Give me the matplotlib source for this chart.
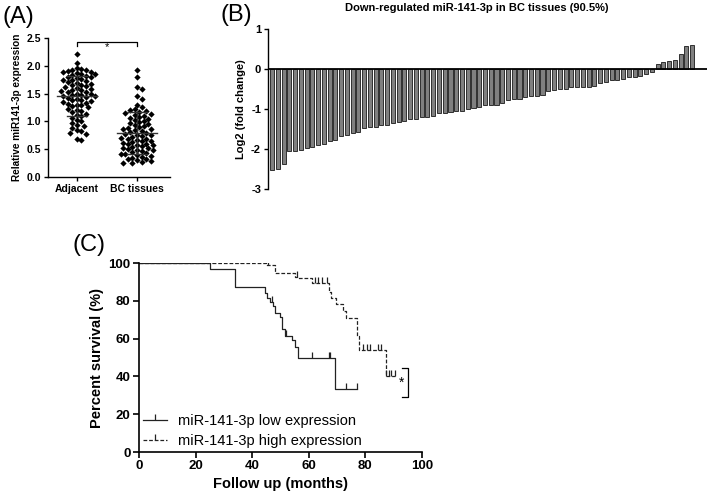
import numpy as np
import matplotlib
matplotlib.use("Agg")
import matplotlib.pyplot as plt
from matplotlib.lines import Line2D

plt.rcParams['font.family'] = ['Liberation Sans', 'DejaVu Sans']

# ---------------- Panel A data ----------------
groups_a = ["Adjacent", "BC tissues"]
adjacent_vals = [2.22, 2.05, 1.96, 1.94, 1.93, 1.92, 1.90, 1.89, 1.88, 1.87, 1.86, 1.85,
                 1.84, 1.82, 1.80, 1.79, 1.78, 1.76, 1.75, 1.74, 1.72, 1.70, 1.69, 1.68,
                 1.66, 1.65, 1.63, 1.62, 1.60, 1.58, 1.57, 1.56, 1.55, 1.53, 1.52, 1.50,
                 1.49, 1.48, 1.47, 1.46, 1.45, 1.43, 1.42, 1.40, 1.39, 1.38, 1.36, 1.35,
                 1.33, 1.32, 1.30, 1.29, 1.27, 1.25, 1.23, 1.21, 1.19, 1.17, 1.14, 1.12,
                 1.09, 1.06, 1.03, 1.00, 0.97, 0.94, 0.92, 0.88, 0.85, 0.83, 0.80, 0.78,
                 0.68, 0.67]
bc_vals = [1.93, 1.79, 1.62, 1.58, 1.45, 1.40, 1.30, 1.25, 1.22, 1.20, 1.18, 1.17,
           1.15, 1.14, 1.12, 1.10, 1.08, 1.06, 1.05, 1.03, 1.01, 0.99, 0.97, 0.95,
           0.93, 0.92, 0.90, 0.89, 0.87, 0.86, 0.84, 0.82, 0.81, 0.79, 0.78, 0.76,
           0.75, 0.73, 0.72, 0.71, 0.69, 0.68, 0.67, 0.65, 0.64, 0.63, 0.62, 0.60,
           0.59, 0.58, 0.57, 0.55, 0.54, 0.53, 0.52, 0.50, 0.49, 0.48, 0.46, 0.45,
           0.44, 0.42, 0.41, 0.40, 0.38, 0.36, 0.35, 0.33, 0.32, 0.30, 0.28, 0.27,
           0.26, 0.25]
yticks_a = [0.0, 0.5, 1.0, 1.5, 2.0, 2.5]

# ---------------- Panel B data ----------------
fold_down = [-2.52, -2.50, -2.37, -2.06, -2.04, -2.02, -1.98, -1.94, -1.91, -1.88, -1.79,
             -1.78, -1.67, -1.64, -1.59, -1.57, -1.48, -1.46, -1.44, -1.40, -1.39, -1.36,
             -1.32, -1.29, -1.26, -1.24, -1.21, -1.19, -1.18, -1.11, -1.09, -1.07, -1.06,
             -1.05, -1.00, -0.98, -0.96, -0.91, -0.91, -0.89, -0.85, -0.78, -0.76, -0.74,
             -0.71, -0.68, -0.67, -0.64, -0.55, -0.53, -0.50, -0.49, -0.46, -0.46, -0.45,
             -0.45, -0.43, -0.35, -0.32, -0.28, -0.28, -0.26, -0.21, -0.20, -0.17, -0.13,
             -0.07]
fold_up = [0.12, 0.17, 0.21, 0.22, 0.38, 0.575, 0.59]
yticks_b = [-3, -2, -1, 0, 1]

# ---------------- Panel C data ----------------
low_event_t = [25, 34, 44.5, 45.3, 46.3, 47.2, 48, 49.8, 50.7, 51.5, 53.9, 55.1, 56.3, 69.3]
low_surv = [96.8, 87.2, 84.0, 81.3, 79.5, 77.2, 73.4, 71.3, 64.9, 61.4, 59.3, 55.4, 49.5, 33.2]
low_end = 77
low_censor = [46.9, 52.1, 61.3, 67.2, 67.6, 73.1, 77]

high_event_t = [44.9, 48, 55, 56, 61, 67, 68, 69.6, 72, 73, 77.1, 77.7, 87.2]
high_surv = [98.9, 94.8, 92.7, 91.9, 89.6, 84.8, 81.3, 78.3, 74.6, 70.7, 61.4, 53.9, 40.3]
high_end = 90.4
high_censor = [25.7, 35.7, 45.6, 55.7, 62.2, 63.4, 64.6, 66.4, 79.2, 80.4, 81.6, 84.5,
               85.4, 87.4, 88.4, 89.2, 90.4]

legend_labels = ["miR-141-3p low expression", "miR-141-3p high expression"]

W, H = 709, 498
fig = plt.figure(figsize=(W / 100, H / 100), dpi=100)


def px_axes(x0, y0, x1, y1):
    return fig.add_axes([x0 / W, 1 - y1 / H, (x1 - x0) / W, (y1 - y0) / H])


# ================= Panel A =================
axA = px_axes(48, 38, 170, 177)
xlimA = (-0.48, 1.55)
axA.set_xlim(*xlimA)
axA.set_ylim(0, 2.5)
sx = 122 / (xlimA[1] - xlimA[0])  # px per x unit
sy = 139 / 2.5


def swarm(vals, d=4.6):
    order = np.argsort(vals)[::-1]
    placed = []
    offs = np.zeros(len(vals))
    for i in order:
        yv = vals[i] * sy
        cands = [0.0]
        for n in range(1, 12):
            cands += [n * d * 0.5, -n * d * 0.5]
        for c in cands:
            ok = True
            for (px, py) in placed:
                if (px - c) ** 2 + (py - yv) ** 2 < d * d:
                    ok = False
                    break
            if ok:
                offs[i] = c
                placed.append((c, yv))
                break
    return offs / sx


for gi, vals in enumerate([adjacent_vals, bc_vals]):
    vals = np.array(vals)
    offs = swarm(vals)
    axA.plot(gi + offs, vals, 'D', color='black', ms=3.2, mew=0)
    m, s = vals.mean(), vals.std(ddof=1)
    axA.plot([gi - 0.33, gi + 0.33], [m, m], color='#333333', lw=1.0, zorder=3)
    axA.plot([gi, gi], [m - s, m + s], color='#333333', lw=1.0, zorder=3)
    for yy in (m - s, m + s):
        axA.plot([gi - 0.17, gi + 0.17], [yy, yy], color='#333333', lw=1.0, zorder=3)

axA.plot([0, 0, 1, 1], [2.35, 2.43, 2.43, 2.35], color='black', lw=0.9, clip_on=False)
axA.text(0.5, 2.25, "*", ha='center', va='bottom', fontsize=8)

axA.set_xticks([0, 1])
axA.set_xticklabels(groups_a, fontsize=7.5, fontweight='bold')
axA.set_yticks(yticks_a)
axA.set_yticklabels([f"{v:.1f}" for v in yticks_a], fontsize=7.5, fontweight='bold')
axA.set_ylabel("Relative miR141-3p expression", fontsize=7.2, fontweight='bold', labelpad=3)
for sp in ('top', 'right'):
    axA.spines[sp].set_visible(False)
for sp in ('left', 'bottom'):
    axA.spines[sp].set_linewidth(1.0)
axA.tick_params(length=3, width=1.0, pad=2)

fig.text(2 / W, 1 - 17 / H, "(A)", fontsize=17, va='center', ha='left')

# ================= Panel B =================
axB = px_axes(268, 29, 707, 189)
fold = fold_down + fold_up
xb = np.arange(len(fold))
axB.bar(xb, fold, width=0.7, color='#808080', edgecolor='#1a1a1a', lw=0.6)
axB.set_xlim(-0.73, len(fold) + 1.6)
axB.set_ylim(-3, 1)
axB.axhline(0, color='black', lw=1.3)
axB.set_xticks([])
axB.set_yticks(yticks_b)
axB.set_yticklabels([str(v) for v in yticks_b], fontsize=8, fontweight='bold')
for sp in ('top', 'right', 'bottom'):
    axB.spines[sp].set_visible(False)
axB.spines['left'].set_linewidth(1.0)
axB.tick_params(length=3, width=1.0, pad=2)
axB.set_ylabel("Log2 (fold change)", fontsize=8, fontweight='bold', labelpad=4)
fig.text(477 / W, 1 - 8 / H, "Down-regulated miR-141-3p in BC tissues (90.5%)",
         fontsize=8, fontweight='bold', ha='center', va='center')
fig.text(221 / W, 1 - 15 / H, "(B)", fontsize=17, va='center', ha='left')

# ================= Panel C =================
axC = px_axes(139, 263, 422, 452)
axC.set_xlim(0, 100)
axC.set_ylim(0, 100)


def km_xy(ev_t, ev_s, end):
    xs = [0] + list(ev_t) + [end]
    ys = [100] + list(ev_s) + [ev_s[-1]]
    return xs, ys


def surv_at(t, ev_t, ev_s):
    s = 100
    for tt, ss in zip(ev_t, ev_s):
        if t >= tt:
            s = ss
    return s


xs, ys = km_xy(low_event_t, low_surv, low_end)
axC.step(xs, ys, where='post', color='#222222', lw=0.9, ls='-')
axC.plot(low_censor, [surv_at(t, low_event_t, low_surv) for t in low_censor],
         ls='none', marker=2, ms=4, mew=0.9, color='#222222')

xs, ys = km_xy(high_event_t, high_surv, high_end)
axC.step(xs, ys, where='post', color='#222222', lw=0.9, ls=(0, (3, 1.5)))
axC.plot(high_censor, [surv_at(t, high_event_t, high_surv) for t in high_censor],
         ls='none', marker=2, ms=4, mew=0.9, color='#222222')

# significance bracket
axC.plot([93, 95, 95, 93], [44.3, 44.3, 29.3, 29.3], color='black', lw=0.9, clip_on=False)
axC.text(92.8, 36.5, "*", ha='center', va='center', fontsize=10)

handles = [Line2D([], [], color='#222222', lw=0.9, ls='-', marker=2, ms=4, mew=0.9),
           Line2D([], [], color='#222222', lw=0.9, ls=(0, (3, 1.5)), marker=2, ms=4, mew=0.9)]
axC.legend(handles, legend_labels, loc='lower left', bbox_to_anchor=(0.0, 0.0),
           frameon=False, fontsize=10.5, handlelength=1.6, handletextpad=0.8,
           labelspacing=0.4, borderaxespad=0.0, borderpad=0.3, numpoints=1)

axC.set_xticks([0, 20, 40, 60, 80, 100])
axC.set_yticks([0, 20, 40, 60, 80, 100])
axC.set_xticklabels([str(v) for v in [0, 20, 40, 60, 80, 100]], fontsize=9.5, fontweight='bold')
axC.set_yticklabels([str(v) for v in [0, 20, 40, 60, 80, 100]], fontsize=9.5, fontweight='bold')
axC.set_xlabel("Follow up (months)", fontsize=10.5, fontweight='bold', labelpad=3)
axC.set_ylabel("Percent survival (%)", fontsize=10.5, fontweight='bold', labelpad=3)
for sp in ('top', 'right'):
    axC.spines[sp].set_visible(False)
for sp in ('left', 'bottom'):
    axC.spines[sp].set_linewidth(1.2)
axC.tick_params(length=4, width=1.2, pad=2)
fig.text(72 / W, 1 - 245 / H, "(C)", fontsize=17, va='center', ha='left')

fig.savefig("out.png", dpi=100)
